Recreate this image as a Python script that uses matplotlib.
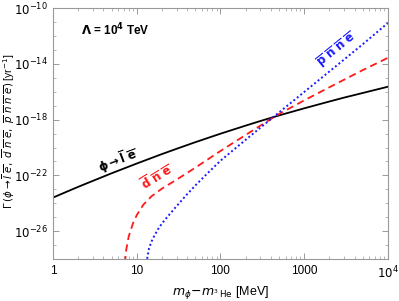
import numpy as np
import matplotlib
matplotlib.use("Agg")
import matplotlib.pyplot as plt
from matplotlib.ticker import LogLocator, FixedLocator, NullFormatter

plt.rcParams['font.family'] = ['Liberation Sans', 'DejaVu Sans']
plt.rcParams['mathtext.fontset'] = 'dejavusans'

# phi -> lbar ebar (mass difference in MeV, log10 of rate in 1/yr)
m_lep = [1, 2, 3, 5, 10, 20, 30, 50, 100, 200, 300, 500, 1000, 2000, 3000, 5000, 10000]
lg_lep = [-23.59, -22.82, -22.39, -21.85, -21.15, -20.47, -20.09, -19.62, -19.01,
          -18.43, -18.10, -17.70, -17.19, -16.70, -16.42, -16.09, -15.64]

# phi -> dbar nbar ebar
m_d = [7.2, 7.5, 8, 9, 10, 12, 15, 20, 30, 50, 100, 200, 300, 500, 1000, 2000, 5000, 10000]
lg_d = [-28.3, -27.3, -26.4, -25.45, -24.85, -24.1, -23.5, -22.95, -22.3, -21.45,
        -20.25, -19.1, -18.43, -17.6, -16.62, -15.68, -14.45, -13.57]

# phi -> pbar nbar nbar ebar
m_p = [13, 14, 15, 16, 18, 20, 25, 30, 40, 50, 70, 100, 200, 300, 500, 1000, 2000, 5000, 10000]
lg_p = [-28.3, -27.25, -26.75, -26.4, -25.85, -25.45, -24.75, -24.2, -23.35, -22.73,
        -21.85, -20.95, -19.45, -18.58, -17.49, -16.02, -14.55, -12.6, -11.07]

x_ticks = [1, 10, 100, 1000, 10000]
x_labels = ["1", "10", "100", "1000", "$10^4$"]
y_ticks = [1e-26, 1e-22, 1e-18, 1e-14, 1e-10]
y_labels = ["$10^{-26}$", "$10^{-22}$", "$10^{-18}$", "$10^{-14}$", "$10^{-10}$"]

red = "#ff1a1a"
blue = "#1a1aff"

fig = plt.figure(figsize=(3.99, 3.01), dpi=100)
ax = fig.add_axes([0.133, 0.1395, 0.839, 0.8335])

ax.plot(m_lep, 10.0 ** np.array(lg_lep), color="black", lw=1.3)
ax.plot(m_d, 10.0 ** np.array(lg_d), color=red, lw=1.3, ls=(0, (4, 2.5)))
ax.plot(m_p, 10.0 ** np.array(lg_p), color=blue, lw=1.4, ls=(0, (1, 1.3)))

ax.set_xscale("log")
ax.set_yscale("log")
ax.set_xlim(1, 1e4)
ax.set_ylim(1e-28, 1e-10)

ax.xaxis.set_major_locator(FixedLocator(x_ticks))
ax.set_xticklabels(x_labels)
ax.xaxis.set_minor_locator(LogLocator(base=10, subs=np.arange(2, 10)))
ax.xaxis.set_minor_formatter(NullFormatter())
ax.yaxis.set_major_locator(FixedLocator(y_ticks))
ax.set_yticklabels(y_labels)
ax.yaxis.set_minor_locator(FixedLocator([10.0 ** k for k in range(-28, -9)]))
ax.yaxis.set_minor_formatter(NullFormatter())

ax.tick_params(which="both", direction="in", top=True, right=True, color="#999999",
               labelsize=8.5, pad=4)
ax.tick_params(which="major", length=4, width=0.7)
ax.tick_params(which="minor", length=2, width=0.5)
for s in ax.spines.values():
    s.set_color("#999999")
    s.set_linewidth(0.8)

ax.set_xlabel(r"$m_\phi\!-\!m_{^3\,\mathrm{He}}$ [MeV]", fontsize=9)
ax.xaxis.set_label_coords(0.5, -0.10)
ax.set_ylabel(r"$\Gamma\,(\phi \rightarrow \overline{l}\ \overline{e},\ \overline{d}\ \overline{n}\ \overline{e},"
              r"\ \overline{p}\ \overline{n}\ \overline{n}\ \overline{e})$ [yr$^{-1}$]", fontsize=7.4)
ax.yaxis.set_label_coords(-0.108, 0.51)

ax.text(0.185, 0.912, r"$\mathbf{\Lambda}$ = 10$^\mathbf{4}$ TeV", transform=ax.transAxes,
        fontsize=8.5, fontweight="bold", ha="center", va="center")
ax.text(0.194, 0.394, r"$\mathbf{\phi \rightarrow \overline{l}\ \overline{e}}$", transform=ax.transAxes,
        fontsize=8.5, rotation=21, ha="center", va="center", color="black")
ax.text(0.31, 0.328, r"$\mathbf{\overline{d}\ \overline{n}\ \overline{e}}$", transform=ax.transAxes,
        fontsize=8.5, rotation=32, ha="center", va="center", color=red)
ax.text(0.847, 0.833, r"$\mathbf{\overline{p}\ \overline{n}\ \overline{n}\ \overline{e}}$", transform=ax.transAxes,
        fontsize=8.5, rotation=39, ha="center", va="center", color=blue)

fig.savefig("out.png", dpi=100)
